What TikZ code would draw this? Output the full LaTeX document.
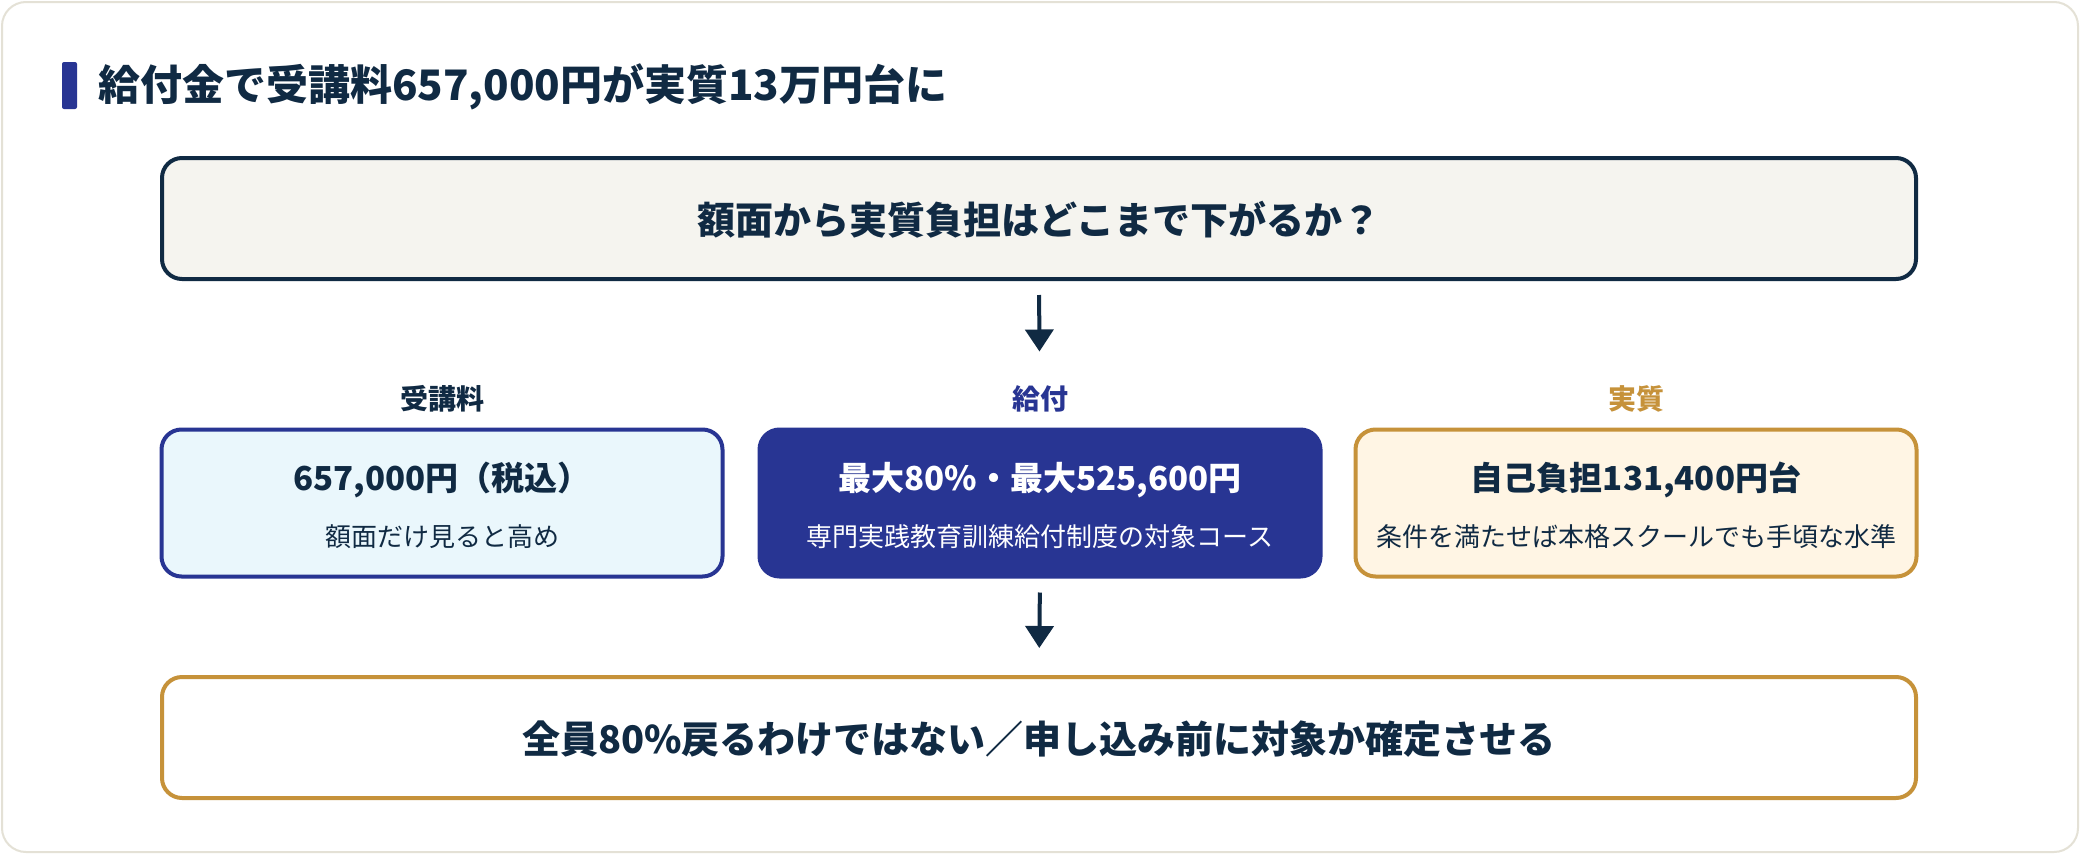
\documentclass[tikz,border=0pt]{standalone}
\usepackage{fontspec}
\setmainfont{Noto Sans CJK JP}
\usetikzlibrary{arrows.meta}
\definecolor{navy}{HTML}{102A43}
\definecolor{indigo}{HTML}{283593}
\definecolor{gold}{HTML}{C6923A}
\definecolor{framec}{HTML}{E4E1D6}
\definecolor{qfill}{HTML}{F5F4EF}
\definecolor{cyanfill}{HTML}{EAF7FC}
\definecolor{creamfill}{HTML}{FFF5E4}
\tikzset{
  box/.style={rounded corners=20pt, line width=4pt, inner sep=0pt},
  colbox/.style={box, minimum width=561pt, minimum height=147pt},
  widebox/.style={box, minimum width=1754pt, minimum height=121pt},
  bigtext/.style={font=\bfseries\fontsize{38}{45}\selectfont, text=navy, inner sep=0pt},
  headtext/.style={font=\bfseries\fontsize{33}{39}\selectfont, inner sep=0pt},
  subtext/.style={font=\fontsize{26}{31}\selectfont, inner sep=0pt},
  labtext/.style={font=\bfseries\fontsize{28}{33}\selectfont, inner sep=0pt},
  arr/.style={draw=navy, line width=4pt, -{Triangle[length=22pt,width=28pt]}}
}
\begin{document}
\begin{tikzpicture}[x=1pt,y=-1pt]
\useasboundingbox (0,0) rectangle (2080,854);
\fill[white] (0,0) rectangle (2080,854);
\draw[framec, line width=2pt, fill=white, rounded corners=24pt] (2,2) rectangle (2078,852);
% title
\fill[indigo, rounded corners=2pt] (62,62) rectangle (77,109);
\node[anchor=west, font=\bfseries\fontsize{42}{50}\selectfont, text=navy, inner sep=0pt] (title) at (98,87) {給付金で受講料657,000円が実質13万円台に};
% question box
\node[widebox, draw=navy, fill=qfill] (q) at (1039,218.5) {};
\node[bigtext] (qt) at (1039,220) {額面から実質負担はどこまで下がるか？};
% columns
\node[colbox, draw=indigo, fill=cyanfill] (L) at (442,503) {};
\node[colbox, draw=indigo, fill=indigo] (M) at (1040,503) {};
\node[colbox, draw=gold, fill=creamfill] (R) at (1636,503) {};
\node[labtext, text=navy] (Llab) at (442,399) {受講料};
\node[labtext, text=indigo] (Mlab) at (1040,399) {給付};
\node[labtext, text=gold] (Rlab) at (1636,399) {実質};
\node[headtext, text=navy] (L1) at (442,480) {657,000円（税込）};
\node[subtext, text=navy] (L2) at (442,537) {額面だけ見ると高め};
\node[headtext, text=white] (M1) at (1040,480) {最大80\%・最大525,600円};
\node[subtext, text=white] (M2) at (1040,537) {専門実践教育訓練給付制度の対象コース};
\node[headtext, text=navy] (R1) at (1636,480) {自己負担131,400円台};
\node[subtext, text=navy] (R2) at (1636,537) {条件を満たせば本格スクールでも手頃な水準};
% bottom box
\node[widebox, draw=gold, fill=white] (B) at (1039,737.5) {};
\node[bigtext] (Bt) at (1039,739) {全員80\%戻るわけではない／申し込み前に対象か確定させる};
% arrows
\draw[arr, shorten <=14pt, shorten >=76pt] (q.south) -- (M.north);
\draw[arr, shorten <=14pt, shorten >=27pt] (M.south) -- (B.north);
\end{tikzpicture}
\end{document}
